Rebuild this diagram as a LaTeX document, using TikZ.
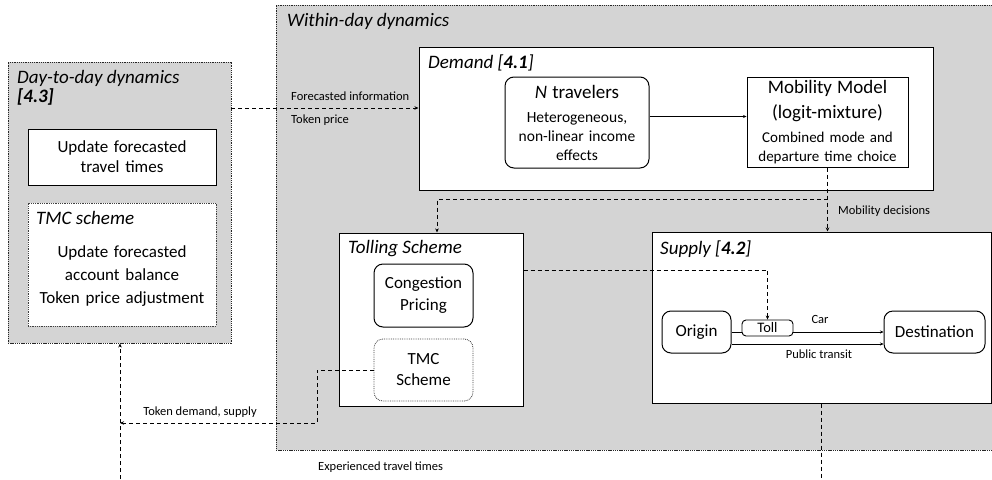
\documentclass[tikz,border=0pt]{standalone}
\usepackage{fontspec}
\setmainfont{Carlito}
\usetikzlibrary{arrows.meta}
\definecolor{bggray}{RGB}{212,212,212}
\newcommand{\fs}[2]{\fontsize{#1}{#2}\selectfont}
\begin{document}
\begin{tikzpicture}[x=1pt,y=-1pt,
  box/.style={draw=black, line width=1pt, fill=white, inner sep=0pt},
  rbox/.style={box, rounded corners=9pt},
  grp/.style={draw=black!85, line width=0.9pt, dash pattern=on 1.3pt off 0.9pt, fill=bggray, inner sep=0pt},
  dotbox/.style={draw=black!75, line width=0.8pt, dash pattern=on 0.8pt off 1pt, fill=white, inner sep=0pt},
  rdot/.style={dotbox, rounded corners=9pt},
  ttl/.style={anchor=west, inner sep=0pt, font=\fs{19}{22}\itshape},
  lbl/.style={inner sep=0pt, font=\fs{12.5}{14}},
  dsh/.style={line width=1pt, dash pattern=on 4pt off 3pt},
  dar/.style={dsh, -{Stealth[length=4pt,width=3.5pt]}},
  thinln/.style={line width=0.5pt},
  thinar/.style={thinln, -{Stealth[length=3.5pt,width=3pt]}},
]
\useasboundingbox (0,0) rectangle (992,479);
\clip (0,0) rectangle (992,479);

% Within-day dynamics group
\node[grp, minimum width=734, minimum height=445] (wd) at (643,227.5) {};
\node[ttl] (wdt) at (287,21) {Within-day dynamics};

% Day-to-day dynamics group
\node[grp, minimum width=223, minimum height=281] (dtd) at (119.5,202.5) {};
\node[ttl] (dtdt1) at (17,78) {Day-to-day dynamics};
\node[ttl] (dtdt2) at (17,97) {\bfseries [4.3]};
\node[box, minimum width=188, minimum height=56, text width=184, align=center, font=\fs{17}{20}] (upd) at (122,157)
  {Update forecasted\\travel times};
\node[dotbox, minimum width=188, minimum height=123] (tmcd) at (122,264.5) {};
\node[ttl] (tmcdt) at (36,218) {TMC scheme};
\node[inner sep=0pt, text width=184, align=center, font=\fs{17}{23}] (tmcdtext) at (122,276)
  {Update forecasted\\account balance\\Token price adjustment};

% Demand
\node[box, minimum width=514, minimum height=143] (demand) at (676,118.5) {};
\node[ttl] (demandt) at (428,63) {Demand [\textbf{4.1}]};
\node[rbox, minimum width=144, minimum height=91, text width=140, align=center, font=\fs{15.5}{19}] (ntrav) at (577,122.5)
  {{\fs{19}{19}\textit{N} travelers}\\[5pt]Heterogeneous,\\non-linear income\\effects};
\node[box, minimum width=161, minimum height=90, text width=157, align=center, font=\fs{15}{19}] (mob) at (827.5,122)
  {{\fs{19}{19}Mobility Model}\\[6pt]{\fs{19}{19}(logit-mixture)}\\[5pt]Combined mode and\\departure time choice};

% Tolling scheme
\node[box, minimum width=184, minimum height=173] (tolling) at (431,319.5) {};
\node[ttl] (tollingt) at (348,249) {Tolling Scheme};
\node[rbox, minimum width=99, minimum height=63, text width=95, align=center, font=\fs{17}{22}] (cp) at (423.5,295.5)
  {Congestion\\Pricing};
\node[rdot, minimum width=99, minimum height=62, text width=95, align=center, font=\fs{17}{21}] (tmcs) at (423.5,370)
  {TMC\\Scheme};

% Supply
\node[box, minimum width=339, minimum height=171] (supply) at (821.5,317.5) {};
\node[ttl] (supplyt) at (660,249) {Supply [\textbf{4.2}]};
\node[rbox, minimum width=69, minimum height=42, font=\fs{17}{20}] (origin) at (696.5,332) {Origin};
\node[box, rounded corners=4pt, minimum width=51, minimum height=16, line width=0.9pt, font=\fs{14.5}{15}] (toll) at (767.5,328) {Toll};
\node[rbox, minimum width=101, minimum height=42, font=\fs{17}{20}] (dest) at (934.5,332) {Destination};

\draw[thinln] (origin.east) -- (origin.east -| toll.west);
\draw[thinar] (toll.east |- origin.east) -- (dest.west);
\node[lbl] (carl) at (820,319) {Car};
\draw[thinar] ([yshift=-12pt]origin.east) -- ([yshift=-12pt]dest.west);
\node[lbl] (ptl) at (819,354) {Public transit};

% Connectors
\draw[thinar] ([yshift=6pt]ntrav.east) -- ([yshift=6pt]ntrav.east -| mob.west);
\draw[dar] (dtd.east |- 0,108) -- (demand.west |- 0,108);
\node[lbl, anchor=west] (fil) at (291,96) {Forecasted information};
\node[lbl, anchor=west] (tpl) at (291,120) {Token price};

\draw[dar] (mob.south) -- (mob.south |- supply.north);
\draw[dar] (mob.south |- 0,199) -| ([xshift=6pt]tolling.north);
\node[lbl, anchor=west] (mdl) at (838,211) {Mobility decisions};

\draw[dar] (tolling.east |- 0,270) -| (toll.north);

\coordinate (tk) at (120,423);
\draw[dar] (tmcs.west) -| (317,423) -- (tk);
\node[lbl] (tdl) at (200,412) {Token demand, supply};
\draw[dar] (120,500) -- (dtd.south -| tk);

\draw[dsh] (supply.south) -- (supply.south |- 0,500);
\node[lbl, anchor=west] (etl) at (318,467) {Experienced travel times};
\end{tikzpicture}
\end{document}
